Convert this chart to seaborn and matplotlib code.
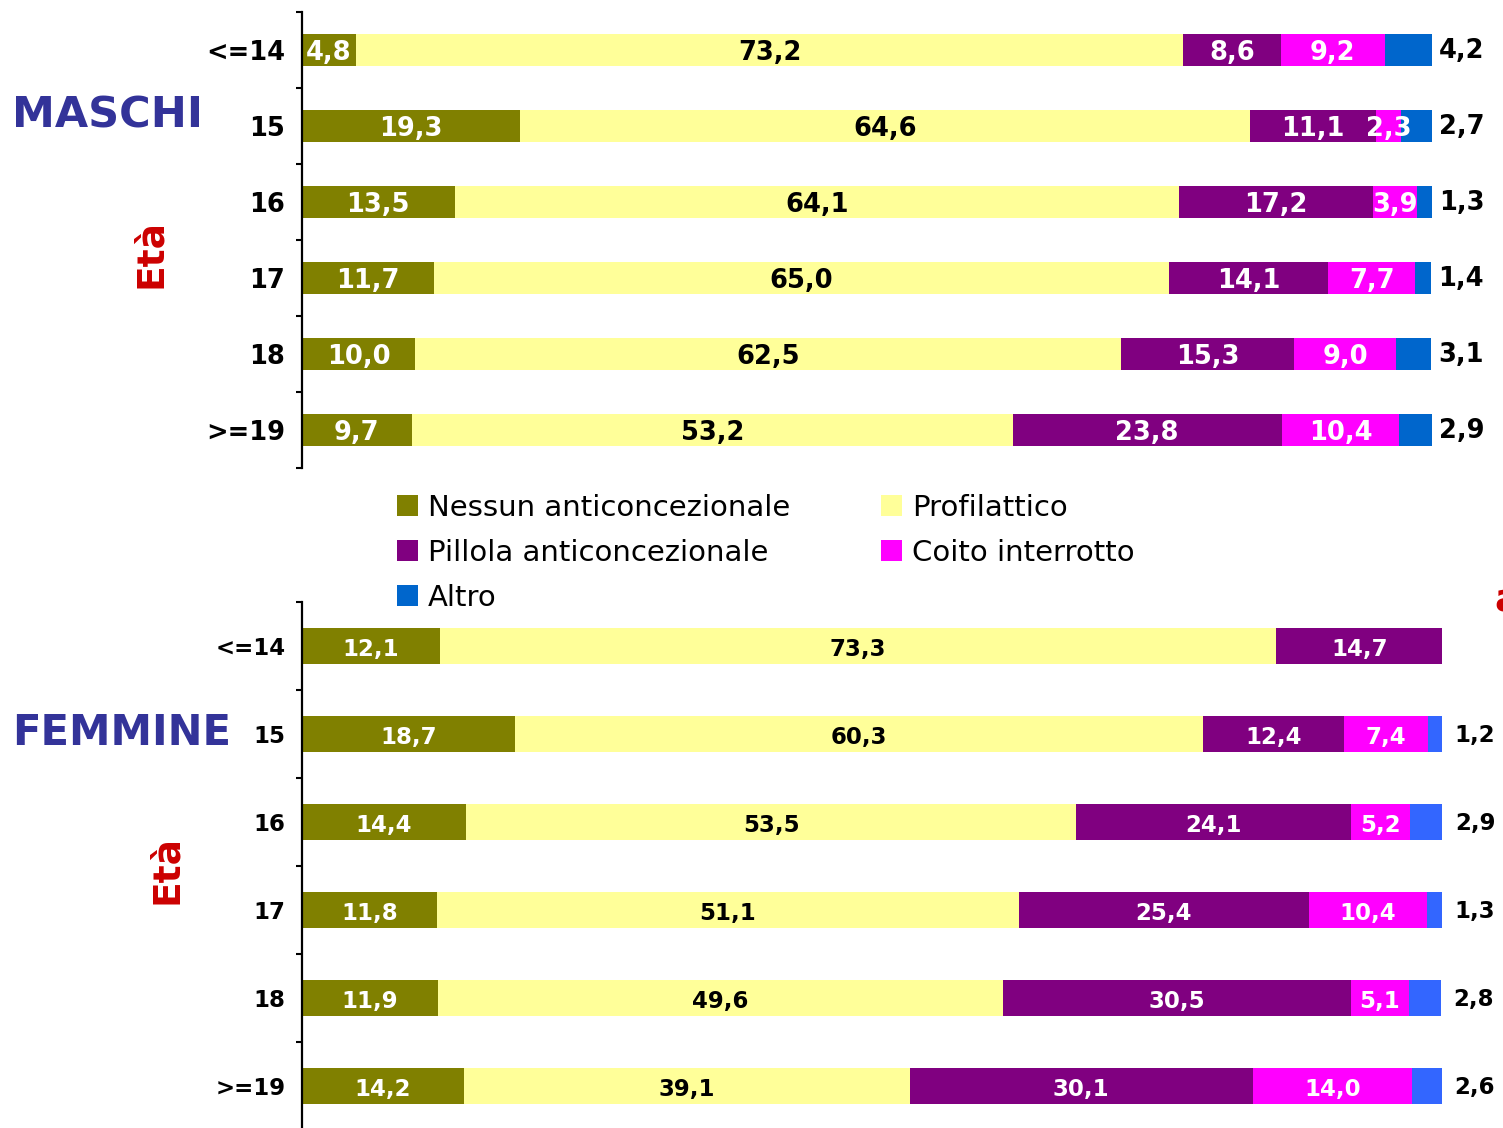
import numpy as np
import pandas as pd
import matplotlib.pyplot as plt
import seaborn as sns
from matplotlib.patches import Patch

# Dati: uso dei metodi anticoncezionali per età (%)
eta = ['<=14', '15', '16', '17', '18', '>=19']
metodi = ['Nessun anticoncezionale', 'Profilattico', 'Pillola anticoncezionale',
          'Coito interrotto', 'Altro']

maschi_nessuno = [4.8, 19.3, 13.5, 11.7, 10.0, 9.7]
maschi_profilattico = [73.2, 64.6, 64.1, 65.0, 62.5, 53.2]
maschi_pillola = [8.6, 11.1, 17.2, 14.1, 15.3, 23.8]
maschi_coito = [9.2, 2.3, 3.9, 7.7, 9.0, 10.4]
maschi_altro = [4.2, 2.7, 1.3, 1.4, 3.1, 2.9]

femmine_nessuno = [12.1, 18.7, 14.4, 11.8, 11.9, 14.2]
femmine_profilattico = [73.3, 60.3, 53.5, 51.1, 49.6, 39.1]
femmine_pillola = [14.7, 12.4, 24.1, 25.4, 30.5, 30.1]
femmine_coito = [0.0, 7.4, 5.2, 10.4, 5.1, 14.0]
femmine_altro = [0.0, 1.2, 2.9, 1.3, 2.8, 2.6]

colori_maschi = ['#808000', '#FFFF99', '#800080', '#FF00FF', '#0066CC']
colori_femmine = ['#808000', '#FFFF99', '#800080', '#FF00FF', '#3366FF']
colori_testo = ['white', 'black', 'white', 'white']

sns.set_theme(style='white')
plt.rcParams['font.family'] = ['DejaVu Sans']

W, H = 1503, 1128
fig = plt.figure(figsize=(W / 100, H / 100), dpi=100)


def fmt(v):
    return f'{v:.1f}'.replace('.', ',')


def disegna(ax, serie, colori, larghezza, fs_val, fs_tick, off_altro):
    valori = np.array(serie)
    cum = valori.cumsum(axis=0)
    # barre sovrapposte: prima il totale, poi le somme parziali
    for i in reversed(range(len(serie))):
        df = pd.DataFrame({'eta': eta, 'x': cum[i]})
        sns.barplot(data=df, x='x', y='eta', order=eta, orient='h',
                    color=colori[i], saturation=1, width=larghezza,
                    linewidth=0, ax=ax)
    for j in range(len(eta)):
        for i in range(4):
            v = valori[i, j]
            if v > 0:
                ax.annotate(fmt(v), xy=(cum[i, j] - v / 2, j), xytext=(0, -2.5),
                            textcoords='offset points', ha='center', va='center',
                            color=colori_testo[i], fontsize=fs_val,
                            fontweight='bold')
        v = valori[4, j]
        if v > 0:
            ax.annotate(fmt(v), xy=(cum[4, j], j), xytext=(off_altro, -1),
                        textcoords='offset points', ha='left', va='center',
                        fontsize=fs_val, fontweight='bold', color='black',
                        annotation_clip=False)

    ax.set_xlim(0, 100)
    ax.set_xticks([])
    ax.set_xlabel('')
    ax.set_ylabel('')
    ax.set_yticks(range(len(eta)))
    ax.set_yticklabels(eta, fontsize=fs_tick, fontweight='bold', color='black')
    ax.set_yticks(np.arange(-0.5, len(eta), 1), minor=True)
    ax.tick_params(axis='y', which='major', length=0, pad=12)
    ax.tick_params(axis='y', which='minor', length=4.5, width=1.5,
                   color='black', left=True)
    for s in ['top', 'right', 'bottom']:
        ax.spines[s].set_visible(False)
    ax.spines['left'].set_linewidth(1.6)
    ax.spines['left'].set_color('black')


# --- Maschi ---
ax1 = fig.add_axes([302 / W, 1 - 468 / H, 1130 / W, 456 / H])
disegna(ax1, [maschi_nessuno, maschi_profilattico, maschi_pillola,
              maschi_coito, maschi_altro],
        colori_maschi, 0.42, 18.5, 18.5, 5)

# --- Femmine ---
ax2 = fig.add_axes([302 / W, 1 - 1130 / H, 1140 / W, 528 / H])
disegna(ax2, [femmine_nessuno, femmine_profilattico, femmine_pillola,
              femmine_coito, femmine_altro],
        colori_femmine, 0.40, 16.5, 16.5, 9)

# titoli laterali
fig.text(12 / W, 1 - 127 / H, 'MASCHI', fontsize=31, fontweight='bold',
         color='#333399', ha='left', va='baseline')
fig.text(12 / W, 1 - 745 / H, 'FEMMINE', fontsize=30, fontweight='bold',
         color='#333399', ha='left', va='baseline')
fig.text(151 / W, 1 - 253 / H, 'Età', fontsize=27, fontweight='bold',
         color='#CC0000', rotation=90, ha='center', va='center')
fig.text(167 / W, 1 - 870 / H, 'Età', fontsize=27, fontweight='bold',
         color='#CC0000', rotation=90, ha='center', va='center')
fig.text(1494 / W, 1 - 601 / H, 'a', fontsize=27, fontweight='bold',
         color='#CC0000', ha='left', va='center')

# legenda (ordine per righe)
ordine = [0, 2, 4, 1, 3]
maniglie = [Patch(facecolor=colori_maschi[i], edgecolor='none', label=metodi[i])
            for i in ordine]
fig.legend(handles=maniglie, loc='upper left',
           bbox_to_anchor=(397 / W, 1 - 494 / H), ncol=2, frameon=False,
           fontsize=21, handlelength=0.72, handleheight=0.72,
           handletextpad=0.35, labelspacing=0.58, columnspacing=3.1,
           borderpad=0, borderaxespad=0, labelcolor='black')

fig.savefig('out.png', dpi=100)
